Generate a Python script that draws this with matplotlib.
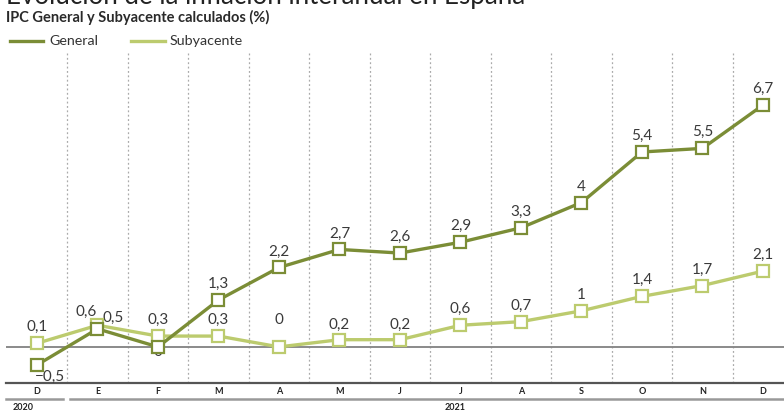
import matplotlib.pyplot as plt

plt.rcParams['font.family'] = ['Lato', 'DejaVu Sans']

# Datos
meses = ['D', 'E', 'F', 'M', 'A', 'M', 'J', 'J', 'A', 'S', 'O', 'N', 'D']
general = [-0.5, 0.5, 0, 1.3, 2.2, 2.7, 2.6, 2.9, 3.3, 4, 5.4, 5.5, 6.7]
subyacente = [0.1, 0.6, 0.3, 0.3, 0, 0.2, 0.2, 0.6, 0.7, 1, 1.4, 1.7, 2.1]

# Desplazamiento de etiquetas (px)
off_gen = [(13, -12), (16, 11), (0, -5), (0, 16), (0, 16), (0, 16), (0, 16),
           (0, 16), (0, 16), (0, 16), (0, 16), (0, 16), (0, 16)]
off_sub = [(0, 16), (-11, 13), (0, 16), (0, 16), (0, 27), (0, 15), (0, 15),
           (0, 16), (0, 16), (0, 16), (0, 16), (0, 16), (0, 16)]

c_gen = '#7b8d36'
c_sub = '#bccb6e'

W, H = 784, 412
fig = plt.figure(figsize=(W / 100, H / 100), dpi=100)
fig.patch.set_facecolor('white')

top_px, bot_px = 52, 383
ax = fig.add_axes([6 / W, 1 - bot_px / H, (W - 6) / W, (bot_px - top_px) / H])
x0, dx = 37, 60.5
ax.set_xlim((6 - x0) / dx, (W - x0) / dx)
ax.set_ylim(-1.0, 8.17)
ax.axis('off')

xs = list(range(len(meses)))

# Lineas verticales punteadas
for i in range(len(meses) - 1):
    ax.plot([i + 0.5, i + 0.5], [-1, 8.17], color='#aaaaaa', lw=0.9,
            ls=(0, (1.5, 2)), zorder=1, clip_on=False)

ax.axhline(0, color='#8a8a8a', lw=1.4, zorder=1)
ax.axhline(-1, color='#555555', lw=1.6, zorder=1, clip_on=False)

for vals, col in [(subyacente, c_sub), (general, c_gen)]:
    ax.plot(xs, vals, color=col, lw=2.4, marker='s', ms=8.5,
            mfc='white', mec=col, mew=1.6, zorder=3, clip_on=False)

def fmt(v):
    s = ('%g' % v).replace('.', ',')
    return s.replace('-', '\u2212')

for vals, offs in [(general, off_gen), (subyacente, off_sub)]:
    for x, v, (ox, oy) in zip(xs, vals, offs):
        ax.annotate(fmt(v), (x, v), xytext=(ox * 0.72, oy * 0.72),
                    textcoords='offset points', ha='center', va='center',
                    fontsize=11, color='#3a3a3a', zorder=2)

# Etiquetas de meses
for x, m in zip(xs, meses):
    fig.text((x0 + dx * x) / W, 1 - 392 / H, m, ha='center', va='center',
             fontsize=6.5, fontweight='bold', color='#222222')

# Lineas de años
fig.add_artist(plt.Line2D([6 / W, 63 / W], [1 - 399 / H] * 2, color='#999999', lw=1.8))
fig.add_artist(plt.Line2D([70 / W, 1], [1 - 399 / H] * 2, color='#999999', lw=1.8))
fig.text(23 / W, 1 - 408 / H, '2020', ha='center', va='center',
         fontsize=6.5, fontweight='bold', color='#222222')
fig.text(455 / W, 1 - 408 / H, '2021', ha='center', va='center',
         fontsize=6.5, fontweight='bold', color='#222222')

# Titulos
fig.text(6 / W, 1 - 4 / H, 'Evolución de la inflación interanual en España',
         ha='left', va='baseline', fontsize=18.6, color='#222222')
fig.text(6 / W, 1 - 17 / H, 'IPC General y Subyacente calculados (%)',
         ha='left', va='center', fontsize=10.5, fontweight='bold', color='#2a2a2a')

# Leyenda
ly = 1 - 41 / H
fig.add_artist(plt.Line2D([10 / W, 43 / W], [ly, ly], color=c_gen, lw=2.4))
fig.text(49 / W, ly, 'General', ha='left', va='center', fontsize=10.3, color='#333333')
fig.add_artist(plt.Line2D([131 / W, 165 / W], [ly, ly], color=c_sub, lw=2.4))
fig.text(170 / W, ly, 'Subyacente', ha='left', va='center', fontsize=10.3, color='#333333')

fig.savefig('out.png', dpi=100)
